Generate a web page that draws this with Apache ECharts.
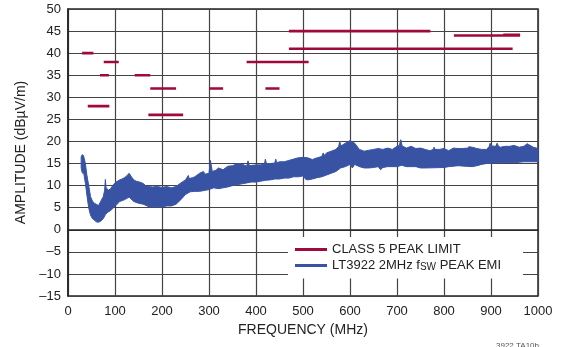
<!DOCTYPE html>
<html>
<head>
<meta charset="utf-8">
<script src="https://cdn.jsdelivr.net/npm/echarts@6/dist/echarts.min.js"></script>
<style>
  html, body { margin: 0; padding: 0; background: #fff; }
  #chart { width: 567px; height: 347px; }
</style>
</head>
<body>
<div id="chart"></div>
<script>
var FONT = "'Liberation Sans', Arial, sans-serif";

// CLASS 5 peak limit segments (MHz, dBuV/m)
var limStart = [30, 42, 68, 76, 142, 175, 171, 300, 380, 420, 470, 470, 821, 926];
var limStop  = [54, 88, 87, 108, 175, 230, 245, 330, 512, 450, 771, 946, 962, 962];
var limLevel = [40, 28, 35, 38, 35, 32, 26, 32, 38, 32, 45, 41, 44, 44.15];

// peak EMI trace, upper edge of the noise band
var topFreq = [28, 30, 33, 37, 40, 44, 48, 52, 56, 60, 65, 70, 75, 78, 79.5, 81, 86, 90, 95, 100,
    105, 110, 115, 120, 125, 130, 135, 140, 145, 150, 155, 160, 165, 170, 180, 190, 200, 210, 220, 230,
    240, 250, 256, 258, 265, 270, 280, 288, 292, 300, 303, 307, 315, 320, 330, 340, 350, 360, 370, 380,
    383, 386, 400, 410, 418, 420, 422, 430, 440, 442, 444, 450, 460, 470, 480, 490, 500, 510, 520, 530,
    540, 543, 546, 550, 560, 570, 576, 578, 581, 590, 600, 610, 620, 630, 640, 650, 660, 670, 680, 690,
    700, 705, 708, 711, 720, 730, 740, 750, 760, 770, 777, 779, 781, 790, 800, 810, 820, 830, 840, 850,
    853, 860, 870, 880, 890, 896, 898, 900, 910, 913, 916, 920, 930, 940, 949, 960, 970, 977, 980, 990, 1000];
var topVal = [16.5, 17, 16.8, 15, 12.5, 10, 7.5, 6.5, 6, 5.8, 5.5, 6.5, 7.5, 9, 11.4, 9.5, 9, 9.2, 10, 10.6,
    11, 11.3, 11.5, 11.8, 12.2, 12.8, 12, 11.3, 11, 10.9, 10.7, 10.5, 10, 9.8, 9.7, 9.8, 9.6, 9.8, 9.5, 9.8,
    10.6, 11.3, 12.3, 11.6, 11.8, 12, 12.8, 13.2, 12.6, 12.8, 15.7, 13.2, 13.5, 14, 13.6, 14.4, 14.5, 15, 14.9, 14.4,
    15.6, 14.5, 14.7, 14.7, 14.9, 16, 15, 15, 15.1, 16, 15.2, 15.4, 15.4, 15.7, 16, 16.3, 16.4, 16.3, 15.9, 16.3,
    16.6, 17.4, 16.8, 17.4, 17.8, 18.2, 18.9, 20, 19, 19.6, 20.2, 19.6, 18.2, 17.8, 18, 18.2, 18.4, 18.2, 18.5, 18.2,
    18.9, 19.1, 20.4, 19, 18.5, 18.9, 18.4, 18.5, 18.2, 17.9, 18.2, 18.7, 18.2, 18.2, 18.4, 17.9, 18.5, 18.4, 18.4, 18.5,
    18.8, 18.7, 18.4, 18.2, 18.2, 18.8, 19.6, 19, 18.9, 19.6, 18.9, 18.7, 18.9, 18.9, 19.1, 18.7, 18.9, 19.5, 19.3, 18.7, 18.4];

// lower edge of the noise band
var botFreq = [28, 30, 34, 37, 40, 44, 48, 52, 55, 60, 65, 70, 75, 80, 85, 90, 100, 110, 120, 130,
    140, 150, 160, 170, 180, 190, 200, 210, 220, 230, 240, 250, 260, 270, 280, 290, 300, 310, 320, 330,
    340, 350, 360, 370, 380, 390, 400, 410, 420, 430, 440, 450, 460, 470, 480, 490, 500, 506, 510, 520,
    530, 540, 550, 560, 570, 580, 590, 600, 605, 610, 620, 630, 640, 650, 660, 665, 670, 680, 700, 710,
    720, 740, 750, 760, 800, 810, 830, 860, 870, 880, 890, 920, 950, 970, 1000];
var botVal = [14, 13, 12.5, 10.5, 8, 5, 3.3, 2.5, 2.3, 1.8, 1.7, 2, 2.5, 3.5, 4, 4.3, 5.3, 6.4, 6.8, 7.4,
    6.4, 6, 5.8, 5.3, 5.1, 5.2, 5.1, 5.4, 5.4, 5.8, 6.8, 8, 8.6, 8.7, 8.7, 8.9, 9.1, 9.5, 9.3, 9.5,
    9.7, 10, 10.2, 10.4, 10.6, 10.8, 10.8, 11, 11.2, 11.3, 11.5, 11.5, 11.7, 11.7, 12, 12, 12.2, 11.4, 11.3, 11.5,
    11.8, 12, 12.4, 12.8, 13.2, 14, 14.3, 14.8, 14, 14.8, 14.3, 14, 14, 14.1, 14.3, 13.6, 14.1, 14.3, 14.3, 14.6,
    14.3, 14.3, 14, 14, 14.1, 14.3, 14.5, 14.3, 14.5, 14.8, 15, 15.2, 15.2, 15.4, 15.4];

var LIMIT_NAME = 'CLASS 5 PEAK LIMIT';
var EMI_NAME = 'LT3922 2MHz fSW PEAK EMI';

function limitData() {
    var d = [];
    for (var i = 0; i < limStart.length; i++) {
        d.push([limStart[i], limLevel[i]]);
        d.push([limStop[i], limLevel[i]]);
        d.push([limStop[i], '-']);   // break between segments
    }
    return d;
}

function show_chart() {
    var myChart = echarts.init(document.getElementById('chart'));

    var option = {
        animation: false,
        textStyle: {fontFamily: FONT},
        grid: {
            left: 68, right: 29, top: 9, bottom: 51,
            show: true, borderColor: '#222', borderWidth: 1.5
        },
        legend: {
            orient: 'vertical',
            left: 288, top: 237,
            backgroundColor: '#fff',
            padding: [6, 22, 6, 7],
            itemWidth: 32, itemHeight: 3,
            itemGap: 3, itemTextGap: 8,
            data: [{name: LIMIT_NAME, icon: 'rect'}, {name: EMI_NAME, icon: 'rect'}],
            formatter: function (name) {
                if (name === EMI_NAME) return '{a|LT3922 2MHz f}{s|SW}{a| PEAK EMI}';
                return '{a|' + name + '}';
            },
            textStyle: {
                fontFamily: FONT, fontSize: 13, color: '#222',
                rich: {
                    a: {fontFamily: FONT, fontSize: 13, color: '#222', lineHeight: 14},
                    s: {fontFamily: FONT, fontSize: 10, color: '#222', lineHeight: 7, verticalAlign: 'bottom'}
                }
            }
        },
        xAxis: {
            type: 'value', min: 0, max: 1000, interval: 100,
            name: 'FREQUENCY (MHz)', nameLocation: 'middle', nameGap: 24,
            nameTextStyle: {fontFamily: FONT, fontSize: 14, color: '#222'},
            axisLine: {lineStyle: {color: '#222', width: 1.5}},
            axisTick: {show: false},
            axisLabel: {
                fontFamily: FONT, fontSize: 13, color: '#222', margin: 9,
                formatter: function (v) { return String(v); }
            },
            splitLine: {lineStyle: {color: '#444', width: 1.2}}
        },
        yAxis: {
            type: 'value', min: -15, max: 50, interval: 5,
            name: 'AMPLITUDE (dB\u00b5V/m)', nameLocation: 'middle', nameGap: 37,
            nameTextStyle: {fontFamily: FONT, fontSize: 14, color: '#222'},
            axisLine: {show: true, lineStyle: {color: '#222', width: 1.5}},
            axisTick: {show: false},
            axisLabel: {
                fontFamily: FONT, fontSize: 13, color: '#222', margin: 7,
                formatter: function (v) { return v < 0 ? '\u2013' + Math.abs(v) : String(v); }
            },
            splitLine: {lineStyle: {color: '#444', width: 1.2}}
        },
        series: [
            {
                name: LIMIT_NAME,
                type: 'line',
                symbol: 'none',
                connectNulls: false,
                color: '#a0093b',
                lineStyle: {color: '#a0093b', width: 2.7},
                data: limitData(),
                z: 3
            },
            {
                name: EMI_NAME,
                type: 'custom',
                color: '#3953a4',
                itemStyle: {color: '#3953a4'},
                data: [[0, 0]],
                renderItem: function (params, api) {
                    var pts = [];
                    for (var i = 0; i < topFreq.length; i++) pts.push(api.coord([topFreq[i], topVal[i]]));
                    for (var j = botFreq.length - 1; j >= 0; j--) pts.push(api.coord([botFreq[j], botVal[j]]));
                    return {
                        type: 'polygon',
                        shape: {points: pts},
                        style: {fill: '#3953a4', stroke: '#3953a4', lineWidth: 1, lineJoin: 'round'}
                    };
                },
                z: 3
            }
        ],
        graphic: [{
            type: 'text', right: 28, top: 342,
            style: {text: '3922 TA10b', fontFamily: FONT, fontSize: 8, fill: '#555'}
        }]
    };

    myChart.setOption(option);
}

show_chart();
</script>
</body>
</html>
